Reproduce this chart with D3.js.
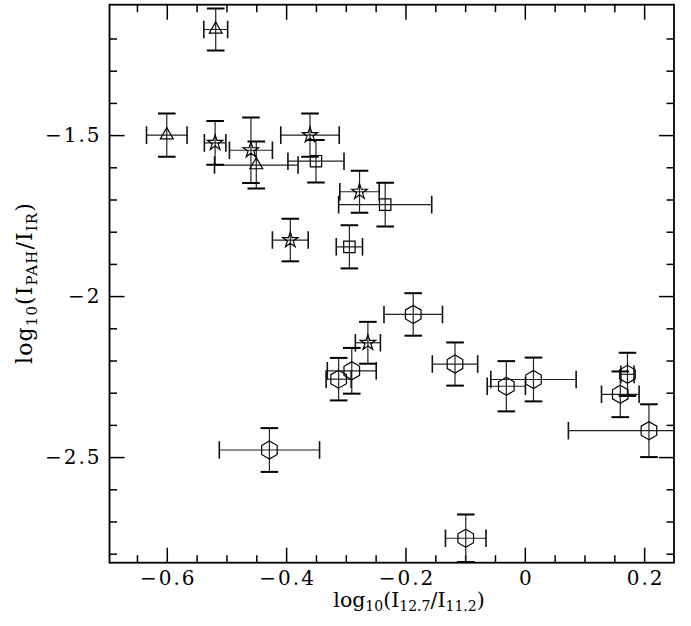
<!DOCTYPE html>
<html>
<head>
<meta charset="utf-8">
<script src="https://cdn.jsdelivr.net/npm/d3@7"></script>
<style>
  body { margin: 0; background: #fff; }
  svg { display: block; }
  text { font-family: "DejaVu Serif", "Liberation Serif", serif; }
</style>
</head>
<body>
<div class="viewer"></div>
<script>
// data: log10(I12.7/I11.2), log10(I_PAH/I_IR) and errors
var shapes = ['tri', 'tri', 'tri',
              'star', 'star', 'star', 'star', 'star', 'star',
              'square', 'square', 'square',
              'hex', 'hex', 'hex', 'hex', 'hex', 'hex', 'hex', 'hex', 'hex', 'hex', 'hex'];
var xVals = [-0.518, -0.600, -0.450,
             -0.519, -0.459, -0.360, -0.277, -0.393, -0.263,
             -0.350, -0.234, -0.294,
             -0.187, -0.312, -0.290, -0.117, -0.031, 0.0145, 0.172, 0.160, 0.208, -0.428, -0.099];
var yVals = [-1.172, -1.500, -1.593,
             -1.524, -1.547, -1.500, -1.676, -1.826, -2.145,
             -1.581, -1.716, -1.847,
             -2.057, -2.258, -2.232, -2.211, -2.280, -2.259, -2.243, -2.305, -2.418, -2.478, -2.752];
var xErr = [0.020, 0.034, 0.070,
            0.018, 0.036, 0.049, 0.033, 0.030, 0.021,
            0.047, 0.078, 0.022,
            0.049, 0.021, 0.041, 0.038, 0.032, 0.0715, 0.011, 0.0315, 0.135, 0.084, 0.034];
var yErr = [0.065, 0.067, 0.073,
            0.068, 0.102, 0.067, 0.065, 0.066, 0.065,
            0.066, 0.068, 0.067,
            0.066, 0.066, 0.071, 0.067, 0.078, 0.068, 0.067, 0.071, 0.082, 0.068, 0.074];

var xMajor = [-0.6, -0.4, -0.2, 0, 0.2];
var xMinor = [-0.65, -0.55, -0.5, -0.45, -0.35, -0.3, -0.25, -0.15, -0.1, -0.05, 0.05, 0.1, 0.15];
var yMajor = [-1.5, -2, -2.5];
var yMinor = [-1.2, -1.3, -1.4, -1.6, -1.7, -1.8, -1.9, -2.1, -2.2, -2.3, -2.4, -2.6, -2.7, -2.8];

(function() {
  var W = 691, H = 626;
  var pL = 109.5, pR = 674, pT = 4.7, pB = 562.7;

  var svg = d3.select('.viewer').append('svg')
    .attr('width', W)
    .attr('height', H);

  var x = d3.scaleLinear().domain([-0.696, 0.25]).range([pL, pR]);
  var y = d3.scaleLinear().domain([-2.828, -1.095]).range([pB, pT]);

  var fmt = d3.format('~g');

  // ticks on all four sides, pointing inwards
  function ticks(axisFn, scale, pos, values, size, labels, pad) {
    var ax = axisFn(scale)
      .tickValues(values)
      .tickSize(size)
      .tickPadding(pad || 9)
      .tickFormat(labels ? fmt : '');
    var g = svg.append('g').attr('transform', pos).call(ax);
    g.select('.domain').remove();
    g.selectAll('line').attr('stroke', '#000').attr('stroke-width', 1.5);
    g.selectAll('text')
      .attr('fill', '#000')
      .style('font-size', '20px')
      .style('letter-spacing', '2px')
      .style('font-family', '"DejaVu Serif", serif');
    return g;
  }
  var bt = 'translate(0,' + pB + ')', tt = 'translate(0,' + pT + ')';
  var lt = 'translate(' + pL + ',0)', rt = 'translate(' + pR + ',0)';
  ticks(d3.axisBottom, x, bt, xMinor, -7.5, false);
  var xl = ticks(d3.axisBottom, x, bt, xMajor, -15, true, 8);
  xl.selectAll('text').attr('dx', 1);
  ticks(d3.axisTop, x, tt, xMinor, -7.5, false);
  ticks(d3.axisTop, x, tt, xMajor, -15, false);
  ticks(d3.axisLeft, y, lt, yMinor, -7.5, false);
  ticks(d3.axisLeft, y, lt, yMajor, -15, true, 8);
  ticks(d3.axisRight, y, rt, yMinor, -7.5, false);
  ticks(d3.axisRight, y, rt, yMajor, -15, false);

  // frame
  svg.append('rect')
    .attr('x', pL).attr('y', pT)
    .attr('width', pR - pL).attr('height', pB - pT)
    .attr('fill', 'none').attr('stroke', '#000').attr('stroke-width', 1.8);

  svg.append('clipPath').attr('id', 'plotclip')
    .append('rect')
    .attr('x', pL).attr('y', pT)
    .attr('width', pR - pL).attr('height', pB - pT);

  var pts = xVals.map(function(v, i) {
    return { x: v, y: yVals[i], ex: xErr[i], ey: yErr[i], s: shapes[i] };
  });

  var plot = svg.append('g').attr('clip-path', 'url(#plotclip)');
  var cap = 8.8;

  var bars = plot.selectAll('g.pt').data(pts).enter().append('g').attr('class', 'pt');

  // horizontal errors
  bars.append('line')
    .attr('x1', function(d) { return x(d.x - d.ex); })
    .attr('x2', function(d) { return x(d.x + d.ex); })
    .attr('y1', function(d) { return y(d.y); })
    .attr('y2', function(d) { return y(d.y); })
    .attr('stroke', '#222').attr('stroke-width', 1.2);
  [-1, 1].forEach(function(k) {
    bars.append('line')
      .attr('x1', function(d) { return x(d.x + k * d.ex); })
      .attr('x2', function(d) { return x(d.x + k * d.ex); })
      .attr('y1', function(d) { return y(d.y) - cap; })
      .attr('y2', function(d) { return y(d.y) + cap; })
      .attr('stroke', '#111').attr('stroke-width', 1.6);
  });

  // vertical errors
  bars.append('line')
    .attr('x1', function(d) { return x(d.x); })
    .attr('x2', function(d) { return x(d.x); })
    .attr('y1', function(d) { return y(d.y - d.ey); })
    .attr('y2', function(d) { return y(d.y + d.ey); })
    .attr('stroke', '#222').attr('stroke-width', 1.2);
  [-1, 1].forEach(function(k) {
    bars.append('line')
      .attr('x1', function(d) { return x(d.x) - cap; })
      .attr('x2', function(d) { return x(d.x) + cap; })
      .attr('y1', function(d) { return y(d.y + k * d.ey); })
      .attr('y2', function(d) { return y(d.y + k * d.ey); })
      .attr('stroke', '#000').attr('stroke-width', 2);
  });

  // symbols
  var hexPath = (function() {
    var r = 9, p = d3.range(6).map(function(i) {
      var a = Math.PI / 2 + i * Math.PI / 3;
      return [r * Math.cos(a), r * Math.sin(a)];
    });
    return 'M' + p.join('L') + 'Z';
  })();
  var symPath = {
    tri: d3.symbol(d3.symbolTriangle, 72)(),
    star: d3.symbol(d3.symbolStar, 74)(),
    square: d3.symbol(d3.symbolSquare, 130)(),
    hex: hexPath
  };

  bars.append('path')
    .attr('transform', function(d) { return 'translate(' + x(d.x) + ',' + y(d.y) + ')'; })
    .attr('d', function(d) { return symPath[d.s]; })
    .attr('fill', 'none')
    .attr('stroke', '#000')
    .attr('stroke-width', 1.2);

  // axis titles
  function title(t, parts, sub) {
    parts.forEach(function(p) {
      var s = t.append('tspan').text(p[0]);
      if (p[1]) s.attr('baseline-shift', '-30%').style('font-size', sub);
    });
  }
  var xt = svg.append('text')
    .attr('x', 409)
    .attr('y', 607)
    .attr('text-anchor', 'middle')
    .style('font-size', '20.5px');
  title(xt, [['log'], ['10', 1], ['(I'], ['12.7', 1], ['/I'], ['11.2', 1], [')']], '14px');

  var yt = svg.append('text')
    .attr('transform', 'translate(32,283) rotate(-90)')
    .attr('text-anchor', 'middle')
    .style('font-size', '22px')
    .style('letter-spacing', '1.1px');
  title(yt, [['log'], ['10', 1], ['(I'], ['PAH', 1], ['/I'], ['IR', 1], [')']], '15px');
})();
</script>
</body>
</html>
